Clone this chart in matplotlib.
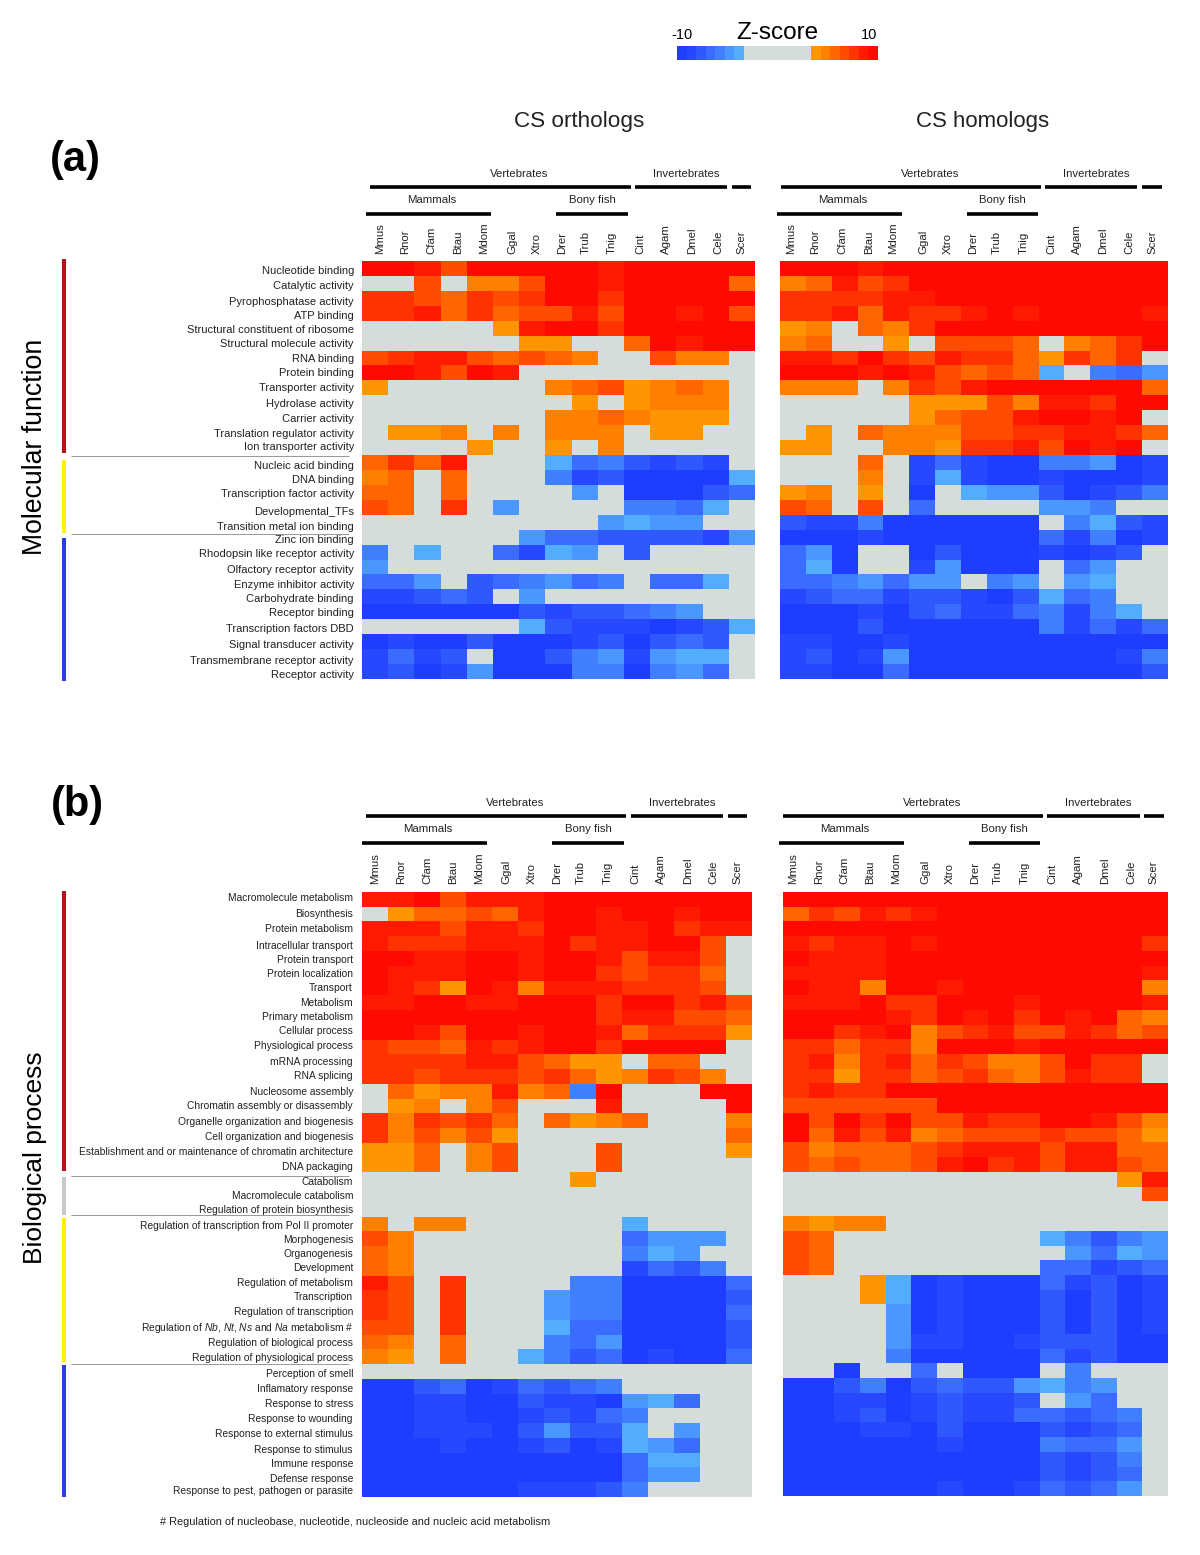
"""
Z-score heat maps of CS orthologs / homologs for GO terms, per species
"""

import matplotlib
matplotlib.use("Agg")
import matplotlib.pyplot as plt
from matplotlib.colors import ListedColormap
import numpy as np

plt.rcParams['font.family'] = ['Liberation Sans', 'DejaVu Sans']
plt.rcParams['mathtext.fontset'] = 'custom'
plt.rcParams['mathtext.rm'] = 'Liberation Sans'
plt.rcParams['mathtext.it'] = 'Liberation Sans:italic'

W, H = 1200, 1555

species = ["Mmus", "Rnor", "Cfam", "Btau", "Mdom", "Ggal", "Xtro", "Drer", "Trub", "Tnig",
           "Cint", "Agam", "Dmel", "Cele", "Scer"]

terms_a = ["Nucleotide binding", "Catalytic activity", "Pyrophosphatase activity", "ATP binding",
           "Structural constituent of ribosome", "Structural molecule activity", "RNA binding",
           "Protein binding", "Transporter activity", "Hydrolase activity", "Carrier activity",
           "Translation regulator activity", "Ion transporter activity", "Nucleic acid binding",
           "DNA binding", "Transcription factor activity", "Developmental_TFs",
           "Transition metal ion binding", "Zinc ion binding", "Rhodopsin like receptor activity",
           "Olfactory receptor activity", "Enzyme inhibitor activity", "Carbohydrate binding",
           "Receptor binding", "Transcription factors DBD", "Signal transducer activity",
           "Transmembrane receptor activity", "Receptor activity"]

terms_b = ["Macromolecule metabolism", "Biosynthesis", "Protein metabolism", "Intracellular transport",
           "Protein transport", "Protein localization", "Transport", "Metabolism", "Primary metabolism",
           "Cellular process", "Physiological process", "mRNA processing", "RNA splicing",
           "Nucleosome assembly", "Chromatin assembly or disassembly", "Organelle organization and biogenesis",
           "Cell organization and biogenesis", "Establishment and or maintenance of chromatin architecture",
           "DNA packaging", "Catabolism", "Macromolecule catabolism", "Regulation of protein biosynthesis",
           "Regulation of transcription from Pol II promoter", "Morphogenesis", "Organogenesis", "Development",
           "Regulation of metabolism", "Transcription", "Regulation of transcription",
           r"Regulation of $\mathit{Nb}$, $\mathit{Nt}$, $\mathit{Ns}$ and $\mathit{Na}$ metabolism #",
           "Regulation of biological process", "Regulation of physiological process", "Perception of smell",
           "Inflamatory response", "Response to stress", "Response to wounding", "Response to external stimulus",
           "Response to stimulus", "Immune response", "Defense response", "Response to pest, pathogen or parasite"]

# colour bins: 0 is the grey middle, +-7 the ends of the scale
ortho_a = [
    [7, 7, 6, 4, 7, 7, 7, 7, 7, 6, 7, 7, 7, 7, 7],
    [0, 0, 4, 0, 2, 2, 4, 7, 7, 6, 7, 7, 7, 7, 3],
    [5, 5, 4, 3, 5, 4, 5, 7, 7, 5, 7, 7, 7, 7, 7],
    [5, 5, 6, 3, 5, 3, 4, 4, 6, 4, 7, 7, 6, 7, 4],
    [0, 0, 0, 0, 0, 1, 6, 7, 7, 5, 7, 7, 7, 7, 7],
    [0, 0, 0, 0, 0, 0, 1, 1, 0, 0, 3, 7, 6, 7, 7],
    [4, 5, 6, 6, 4, 3, 4, 3, 2, 0, 0, 4, 2, 2, 0],
    [7, 7, 6, 4, 7, 6, 0, 0, 0, 0, 0, 0, 0, 0, 0],
    [1, 0, 0, 0, 0, 0, 0, 2, 3, 4, 1, 2, 3, 2, 0],
    [0, 0, 0, 0, 0, 0, 0, 0, 1, 0, 1, 2, 2, 2, 0],
    [0, 0, 0, 0, 0, 0, 0, 2, 2, 3, 2, 1, 1, 1, 0],
    [0, 1, 1, 2, 0, 2, 0, 2, 2, 2, 0, 1, 1, 0, 0],
    [0, 0, 0, 0, 1, 0, 0, 1, 0, 2, 0, 0, 0, 0, 0],
    [3, 5, 3, 6, 0, 0, 0, -1, -4, -3, -5, -6, -5, -6, 0],
    [2, 3, 0, 3, 0, 0, 0, -3, -6, -5, -7, -7, -7, -7, -1],
    [3, 3, 0, 3, 0, 0, 0, 0, -2, 0, -7, -7, -7, -5, -4],
    [4, 3, 0, 5, 0, -2, 0, 0, 0, 0, -3, -3, -4, -1, 0],
    [0, 0, 0, 0, 0, 0, 0, 0, 0, -2, -1, -2, -2, 0, 0],
    [0, 0, 0, 0, 0, 0, -2, -4, -4, -5, -5, -5, -5, -6, -2],
    [-3, 0, -1, 0, 0, -4, -6, -1, -2, 0, -5, 0, 0, 0, 0],
    [-2, 0, 0, 0, 0, 0, 0, 0, 0, 0, 0, 0, 0, 0, 0],
    [-4, -4, -2, 0, -5, -4, -3, -2, -4, -3, 0, -4, -4, -1, 0],
    [-6, -6, -5, -4, -5, 0, -2, 0, 0, 0, 0, 0, 0, 0, 0],
    [-7, -7, -7, -7, -7, -7, -5, -6, -5, -5, -4, -3, -2, 0, 0],
    [0, 0, 0, 0, 0, 0, -1, -5, -6, -6, -6, -7, -6, -5, -1],
    [-7, -6, -7, -7, -5, -7, -7, -7, -6, -5, -7, -5, -4, -5, 0],
    [-6, -4, -6, -5, 0, -7, -7, -5, -3, -2, -6, -2, -1, -1, 0],
    [-6, -5, -7, -6, -2, -7, -7, -7, -3, -3, -7, -3, -2, -4, 0],
]

homo_a = [
    [7, 7, 7, 6, 7, 7, 7, 7, 7, 7, 7, 7, 7, 7, 7],
    [2, 3, 6, 4, 5, 7, 7, 7, 7, 7, 7, 7, 7, 7, 7],
    [5, 5, 5, 5, 6, 6, 7, 7, 7, 7, 7, 7, 7, 7, 7],
    [5, 5, 6, 3, 6, 5, 5, 6, 7, 6, 7, 7, 7, 7, 6],
    [1, 2, 0, 3, 2, 5, 7, 7, 7, 7, 7, 7, 7, 7, 7],
    [2, 3, 0, 0, 1, 0, 4, 4, 4, 3, 0, 2, 3, 5, 7],
    [6, 6, 5, 7, 5, 4, 6, 5, 5, 3, 1, 5, 3, 5, 0],
    [7, 7, 7, 6, 7, 6, 4, 3, 4, 3, -1, 0, -3, -4, -2],
    [2, 2, 2, 0, 2, 5, 4, 6, 7, 7, 7, 7, 7, 7, 3],
    [0, 0, 0, 0, 0, 1, 1, 1, 4, 2, 6, 6, 5, 7, 7],
    [0, 0, 0, 0, 0, 1, 3, 4, 4, 6, 7, 7, 6, 7, 0],
    [0, 1, 0, 3, 2, 2, 2, 4, 4, 5, 5, 6, 6, 5, 3],
    [1, 1, 0, 0, 2, 2, 1, 5, 5, 6, 4, 7, 6, 7, 0],
    [0, 0, 0, 3, 0, -6, -4, -6, -7, -7, -3, -3, -2, -7, -6],
    [0, 0, 0, 2, 0, -6, -1, -6, -7, -7, -6, -7, -7, -7, -6],
    [1, 2, 0, 1, 0, -7, 0, -1, -2, -2, -5, -7, -6, -5, -3],
    [4, 3, 0, 4, 0, -4, 0, 0, 0, 0, -2, -2, -3, 0, 0],
    [-5, -6, -6, -3, -7, -7, -7, -7, -7, -7, 0, -3, -1, -5, -6],
    [-7, -7, -7, -6, -7, -7, -7, -7, -7, -7, -4, -6, -3, -7, -6],
    [-4, -2, -7, 0, 0, -7, -5, -7, -7, -7, -6, -7, -6, -5, 0],
    [-4, -1, -7, 0, 0, -6, -2, -7, -7, -7, 0, -4, -2, 0, 0],
    [-4, -4, -3, -2, -4, -2, -2, 0, -3, -2, 0, -2, -1, 0, 0],
    [-6, -5, -4, -4, -6, -5, -5, -6, -7, -5, -1, -4, -3, 0, 0],
    [-7, -7, -7, -6, -7, -5, -4, -6, -6, -4, -3, -6, -3, -1, 0],
    [-7, -7, -7, -5, -7, -7, -7, -7, -7, -7, -3, -6, -4, -6, -4],
    [-6, -6, -7, -7, -6, -7, -7, -7, -7, -7, -7, -7, -7, -7, -7],
    [-6, -5, -7, -6, -2, -7, -7, -7, -7, -7, -7, -7, -7, -6, -3],
    [-6, -6, -7, -7, -4, -7, -7, -7, -7, -7, -7, -7, -7, -7, -5],
]

ortho_b = [
    [6, 6, 7, 4, 6, 6, 6, 7, 7, 7, 7, 7, 7, 7, 7],
    [0, 1, 3, 3, 4, 3, 6, 7, 7, 6, 7, 7, 6, 7, 7],
    [6, 6, 6, 4, 6, 6, 5, 7, 7, 6, 6, 7, 5, 6, 6],
    [6, 5, 5, 5, 6, 6, 6, 7, 5, 6, 6, 7, 7, 4, 0],
    [7, 7, 6, 6, 7, 7, 6, 7, 7, 6, 4, 6, 6, 4, 0],
    [7, 6, 6, 6, 7, 7, 6, 7, 7, 5, 4, 5, 5, 3, 0],
    [7, 6, 5, 1, 7, 6, 2, 6, 6, 6, 5, 5, 5, 4, 0],
    [6, 6, 7, 7, 6, 6, 7, 7, 7, 5, 7, 7, 5, 6, 4],
    [7, 7, 7, 7, 7, 7, 7, 7, 7, 5, 6, 6, 4, 4, 3],
    [7, 7, 6, 4, 7, 7, 6, 7, 7, 6, 3, 5, 5, 5, 1],
    [5, 4, 4, 3, 6, 5, 6, 7, 7, 5, 7, 7, 7, 7, 0],
    [5, 5, 5, 5, 6, 6, 4, 3, 1, 1, 0, 3, 3, 0, 0],
    [5, 5, 4, 5, 5, 5, 4, 5, 3, 1, 2, 5, 4, 2, 0],
    [0, 3, 1, 2, 2, 6, 2, 3, -3, 7, 0, 0, 0, 7, 7],
    [0, 1, 2, 0, 2, 4, 0, 0, 0, 6, 0, 0, 0, 0, 7],
    [5, 2, 5, 4, 5, 3, 0, 3, 1, 2, 3, 0, 0, 0, 2],
    [5, 2, 4, 2, 4, 1, 0, 0, 0, 0, 0, 0, 0, 0, 3],
    [1, 1, 3, 0, 2, 4, 0, 0, 0, 4, 0, 0, 0, 0, 1],
    [1, 1, 3, 0, 2, 4, 0, 0, 0, 4, 0, 0, 0, 0, 0],
    [0, 0, 0, 0, 0, 0, 0, 0, 1, 0, 0, 0, 0, 0, 0],
    [0, 0, 0, 0, 0, 0, 0, 0, 0, 0, 0, 0, 0, 0, 0],
    [0, 0, 0, 0, 0, 0, 0, 0, 0, 0, 0, 0, 0, 0, 0],
    [2, 0, 2, 2, 0, 0, 0, 0, 0, 0, -1, 0, 0, 0, 0],
    [4, 2, 0, 0, 0, 0, 0, 0, 0, 0, -4, -2, -2, -2, 0],
    [3, 2, 0, 0, 0, 0, 0, 0, 0, 0, -3, -1, -2, 0, 0],
    [3, 2, 0, 0, 0, 0, 0, 0, 0, 0, -6, -4, -5, -3, 0],
    [6, 4, 0, 5, 0, 0, 0, 0, -3, -3, -7, -7, -7, -7, -4],
    [5, 4, 0, 5, 0, 0, 0, -2, -3, -3, -7, -7, -7, -7, -5],
    [5, 4, 0, 5, 0, 0, 0, -2, -3, -3, -7, -7, -7, -7, -4],
    [4, 4, 0, 5, 0, 0, 0, -1, -4, -4, -7, -7, -7, -7, -5],
    [3, 2, 0, 3, 0, 0, 0, -3, -4, -2, -7, -7, -7, -7, -5],
    [2, 1, 0, 3, 0, 0, -1, -3, -5, -4, -7, -6, -7, -7, -4],
    [0, 0, 0, 0, 0, 0, 0, 0, 0, 0, 0, 0, 0, 0, 0],
    [-7, -7, -5, -4, -7, -6, -4, -5, -4, -3, 0, 0, 0, 0, 0],
    [-7, -7, -6, -6, -7, -7, -5, -6, -6, -7, -2, -1, -4, 0, 0],
    [-7, -7, -6, -6, -7, -7, -6, -5, -6, -4, -3, 0, 0, 0, 0],
    [-7, -7, -6, -6, -6, -7, -5, -2, -5, -5, -1, 0, -2, 0, 0],
    [-7, -7, -7, -6, -7, -7, -6, -5, -7, -6, -1, -2, -4, 0, 0],
    [-7, -7, -7, -7, -7, -7, -7, -7, -7, -7, -4, -1, -1, 0, 0],
    [-7, -7, -7, -7, -7, -7, -7, -7, -7, -7, -4, -2, -2, 0, 0],
    [-7, -7, -7, -7, -7, -7, -6, -6, -6, -5, -3, 0, 0, 0, 0],
]

homo_b = [
    [7, 7, 7, 7, 7, 7, 7, 7, 7, 7, 7, 7, 7, 7, 7],
    [3, 5, 4, 6, 5, 6, 7, 7, 7, 7, 7, 7, 7, 7, 7],
    [7, 7, 7, 7, 7, 7, 7, 7, 7, 7, 7, 7, 7, 7, 7],
    [6, 5, 6, 6, 7, 6, 7, 7, 7, 7, 7, 7, 7, 7, 5],
    [7, 6, 6, 6, 7, 7, 7, 7, 7, 7, 7, 7, 7, 7, 7],
    [6, 6, 6, 6, 7, 7, 7, 7, 7, 7, 7, 7, 7, 7, 6],
    [7, 6, 6, 2, 7, 7, 6, 7, 7, 7, 7, 7, 7, 7, 2],
    [6, 6, 6, 7, 5, 5, 7, 7, 7, 6, 7, 7, 7, 7, 6],
    [7, 7, 7, 7, 6, 5, 7, 6, 7, 5, 7, 6, 7, 3, 2],
    [7, 7, 5, 6, 7, 2, 4, 5, 6, 4, 4, 6, 5, 3, 4],
    [5, 5, 3, 5, 5, 2, 7, 7, 7, 6, 7, 7, 7, 7, 7],
    [5, 6, 2, 5, 6, 3, 5, 4, 2, 2, 4, 7, 5, 5, 0],
    [5, 5, 1, 5, 5, 3, 4, 5, 3, 2, 4, 6, 5, 5, 0],
    [5, 6, 5, 5, 7, 7, 7, 7, 7, 7, 7, 7, 7, 7, 7],
    [4, 4, 4, 4, 4, 4, 7, 7, 7, 7, 7, 7, 7, 7, 7],
    [7, 4, 7, 5, 7, 4, 4, 6, 5, 5, 7, 7, 6, 4, 2],
    [7, 3, 6, 4, 6, 2, 3, 4, 4, 4, 5, 4, 4, 3, 1],
    [4, 2, 3, 3, 3, 4, 5, 6, 6, 6, 4, 6, 6, 3, 3],
    [4, 3, 4, 3, 3, 4, 6, 7, 5, 6, 4, 6, 6, 4, 3],
    [0, 0, 0, 0, 0, 0, 0, 0, 0, 0, 0, 0, 0, 1, 6],
    [0, 0, 0, 0, 0, 0, 0, 0, 0, 0, 0, 0, 0, 0, 4],
    [0, 0, 0, 0, 0, 0, 0, 0, 0, 0, 0, 0, 0, 0, 0],
    [2, 1, 2, 2, 0, 0, 0, 0, 0, 0, 0, 0, 0, 0, 0],
    [4, 3, 0, 0, 0, 0, 0, 0, 0, 0, -1, -3, -5, -3, -2],
    [4, 3, 0, 0, 0, 0, 0, 0, 0, 0, 0, -2, -4, -1, -2],
    [4, 3, 0, 0, 0, 0, 0, 0, 0, 0, -4, -4, -6, -5, -4],
    [0, 0, 0, 1, -1, -7, -6, -7, -7, -7, -4, -6, -5, -7, -6],
    [0, 0, 0, 1, -1, -7, -6, -7, -7, -7, -5, -7, -5, -7, -6],
    [0, 0, 0, 0, -2, -7, -6, -7, -7, -7, -5, -7, -5, -7, -6],
    [0, 0, 0, 0, -2, -7, -6, -7, -7, -7, -5, -7, -5, -7, -6],
    [0, 0, 0, 0, -2, -6, -6, -7, -7, -6, -5, -5, -5, -7, -7],
    [0, 0, 0, 0, -3, -7, -7, -7, -7, -7, -4, -6, -5, -7, -7],
    [0, 0, -7, 0, 0, -4, 0, -7, -7, -7, 0, -3, 0, 0, 0],
    [-7, -7, -5, -3, -7, -5, -4, -5, -5, -2, -1, -3, -2, 0, 0],
    [-7, -7, -6, -6, -7, -6, -5, -6, -6, -5, 0, -2, -4, 0, 0],
    [-7, -7, -6, -5, -7, -6, -5, -6, -6, -4, -4, -5, -4, -3, 0],
    [-7, -7, -7, -6, -6, -7, -5, -7, -7, -7, -5, -6, -5, -4, 0],
    [-7, -7, -7, -7, -7, -7, -6, -7, -7, -7, -3, -4, -4, -2, 0],
    [-7, -7, -7, -7, -7, -7, -7, -7, -7, -7, -5, -6, -5, -3, 0],
    [-7, -7, -7, -7, -7, -7, -7, -7, -7, -7, -5, -6, -5, -4, 0],
    [-7, -7, -7, -7, -7, -7, -6, -7, -7, -6, -4, -5, -4, -2, 0],
]

scale_bins = [-7, -6, -5, -4, -3, -2, -1, 0, 0, 0, 0, 0, 0, 0, 1, 2, 3, 4, 5, 6, 7]

bin_colors = ['#1f3dff', '#2848ff', '#2f58ff', '#3a6cff', '#4080ff', '#4a98ff', '#52adff',
              '#d5dcdc',
              '#ff9500', '#ff8000', '#ff6600', '#ff4c00', '#ff3300', '#ff1a00', '#ff0a00']
cmap = ListedColormap(bin_colors)

# label centres in the figure are not evenly spaced, pixels
label_y_a = [270, 285, 301, 315, 329, 343, 358, 372, 387, 403, 418, 433, 446, 465, 479, 493, 511, 526,
             539, 553, 569, 584, 598, 612, 628, 644, 660, 674]
label_y_b = [897, 913, 928, 945, 959, 973, 987, 1002, 1016, 1030, 1045, 1061, 1075, 1091, 1105, 1121,
             1136, 1151, 1166, 1181, 1195, 1209, 1225, 1239, 1253, 1267, 1282, 1296, 1311, 1327, 1342,
             1357, 1373, 1388, 1403, 1418, 1433, 1449, 1463, 1478, 1490]

fig = plt.figure(figsize=(W / 100, H / 100), dpi=100)


def heatmap(values, left, right, top, bottom):
    """Draw one block of cells, bounds in figure pixels"""
    ax = fig.add_axes([left / W, 1 - bottom / H, (right - left) / W, (bottom - top) / H])
    ax.imshow(np.array(values), cmap=cmap, vmin=-7.5, vmax=7.5, aspect='auto', interpolation='nearest')
    ax.axis('off')
    return ax


heatmap(ortho_a, 362, 754, 261, 679)
heatmap(homo_a, 780, 1168, 261, 679)
heatmap(ortho_b, 362, 752, 892, 1497)
heatmap(homo_b, 783, 1168, 892, 1496)
heatmap([scale_bins], 677, 878, 46, 60)

# overlay in pixel coordinates for text and rules
ov = fig.add_axes([0, 0, 1, 1], zorder=5)
ov.set_xlim(0, W)
ov.set_ylim(H, 0)
ov.axis('off')
ov.patch.set_alpha(0)


def rule(x0, x1, y, lw=2.6, color='black'):
    ov.plot([x0, x1], [y, y], color=color, lw=lw, solid_capstyle='butt')


def header(xs, vert, inv, scer, mam, bony, top_y, species_bottom):
    """Species names and the clade brackets above one block"""
    for x, name in zip(xs, species):
        ov.text(x, species_bottom, name, rotation=90, ha='center', va='bottom', fontsize=8.2, color='#222222')
    ov.text((vert[0] + vert[1]) / 2 + 19, top_y, "Vertebrates", ha='center', va='center', fontsize=8.2, color='#222222')
    ov.text((inv[0] + inv[1]) / 2 + 5, top_y, "Invertebrates", ha='center', va='center', fontsize=8.2, color='#222222')
    ov.text((mam[0] + mam[1]) / 2 + 3, top_y + 26, "Mammals", ha='center', va='center', fontsize=8.2, color='#222222')
    ov.text((bony[0] + bony[1]) / 2, top_y + 26, "Bony fish", ha='center', va='center', fontsize=8.2, color='#222222')
    rule(vert[0], vert[1], top_y + 13)
    rule(inv[0], inv[1], top_y + 13)
    rule(scer[0], scer[1], top_y + 13)
    rule(mam[0], mam[1], top_y + 40)
    rule(bony[0], bony[1], top_y + 40)


header([380, 405, 431, 458, 484, 512, 537, 562, 586, 612, 640, 666, 692, 718, 741],
       (370, 631), (635, 727), (732, 751), (366, 491), (556, 628), 174, 254)
header([791, 815, 842, 869, 893, 923, 948, 973, 997, 1024, 1051, 1077, 1103, 1129, 1152],
       (781, 1041), (1045, 1137), (1142, 1162), (777, 902), (967, 1038), 174, 254)
header([375, 401, 427, 453, 479, 506, 532, 557, 581, 608, 635, 661, 688, 713, 737],
       (366, 626), (631, 723), (728, 747), (362, 487), (552, 624), 803, 884)
header([793, 819, 844, 870, 896, 925, 950, 975, 998, 1025, 1052, 1078, 1105, 1131, 1153],
       (783, 1043), (1047, 1140), (1144, 1164), (779, 904), (969, 1040), 803, 884)

for term, y in zip(terms_a, label_y_a):
    ov.text(354, y + 1, term, ha='right', va='center', fontsize=8, color='#222222')
for term, y in zip(terms_b, label_y_b):
    ov.text(353, y + 1, term, ha='right', va='center', fontsize=7.4, color='#222222')

# category bars down the left side
for y0, y1, col in [(259, 453, '#b5121b'), (460, 533, '#fff200'), (538, 681, '#2b3fe0'),
                    (891, 1171, '#b5121b'), (1177, 1215, '#c8c8c8'), (1218, 1362, '#fff200'),
                    (1365, 1497, '#2b3fe0')]:
    ov.plot([64, 64], [y0, y1], color=col, lw=2.9, solid_capstyle='butt')

for y in [456, 534, 1176, 1215, 1364]:
    rule(71, 349, y, lw=0.6, color='#888888')

ov.text(579.5, 122, "CS orthologs", ha='center', va='center', fontsize=16.2, color='#222222')
ov.text(982.5, 122, "CS homologs", ha='center', va='center', fontsize=16, color='#222222')
ov.text(75, 160, "(a)", ha='center', va='center', fontsize=30, fontweight='bold')
ov.text(77, 805, "(b)", ha='center', va='center', fontsize=30, fontweight='bold')
ov.text(35, 447, "Molecular function", rotation=90, ha='center', va='center', fontsize=19.2)
ov.text(35, 1158, "Biological process", rotation=90, ha='center', va='center', fontsize=19)
ov.text(777, 33, "Z-score", ha='center', va='center', fontsize=17.5)
ov.text(682, 35, "-10", ha='center', va='center', fontsize=10.5)
ov.text(869, 35, "10", ha='center', va='center', fontsize=10.5)
ov.text(160, 1522, "# Regulation of nucleobase, nucleotide, nucleoside and nucleic acid metabolism",
        ha='left', va='center', fontsize=7.9, color='#222222')

plt.savefig("out.png", dpi=100)
